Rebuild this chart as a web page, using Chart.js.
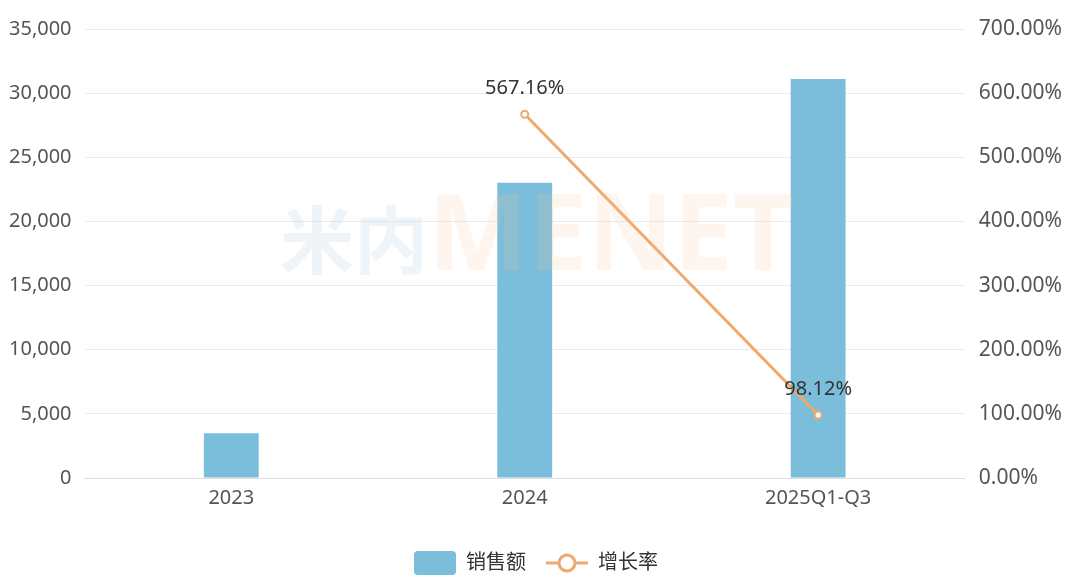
<!DOCTYPE html>
<html>
<head>
<meta charset="utf-8">
<script src="https://cdn.jsdelivr.net/npm/chart.js@4"></script>
<style>
  html, body { margin: 0; padding: 0; background: #fff; }
  #wrap { width: 1080px; height: 585px; }
</style>
</head>
<body>
<div id="wrap"><canvas id="chart"></canvas></div>
<script>
const categories = ['2023', '2024', '2025Q1-Q3'];
const sales = [3480, 23020, 31100];
const growth = [null, 567.16, 98.12];
const salesTicks = [0, 5000, 10000, 15000, 20000, 25000, 30000, 35000];
const growthTicks = [0, 100, 200, 300, 400, 500, 600, 700];

const barColor = '#7BBEDB';
const lineColor = '#EFA96B';
const FONT = "'Noto Sans', 'Noto Sans CJK SC', sans-serif";

// legend icons
function makeIcon(kind) {
  const c = document.createElement('canvas');
  c.width = 44; c.height = 26;
  const g = c.getContext('2d');
  if (kind === 'bar') {
    g.fillStyle = barColor;
    g.beginPath();
    g.roundRect(1, 1, 42, 24, 4);
    g.fill();
  } else {
    g.strokeStyle = lineColor;
    g.lineWidth = 3;
    g.beginPath(); g.moveTo(1, 13); g.lineTo(43, 13); g.stroke();
    g.fillStyle = '#fff';
    g.beginPath(); g.arc(22, 13, 8, 0, Math.PI * 2); g.fill(); g.stroke();
  }
  return c;
}
const icons = [makeIcon('bar'), makeIcon('line')];

const labelPlugin = {
  id: 'pointLabels',
  afterDatasetsDraw(chart) {
    const ctx = chart.ctx;
    const meta = chart.getDatasetMeta(1);
    ctx.save();
    ctx.font = '20px ' + FONT;
    ctx.fillStyle = '#333';
    ctx.textAlign = 'center';
    ctx.textBaseline = 'middle';
    meta.data.forEach((pt, i) => {
      const v = growth[i];
      if (v == null) return;
      ctx.fillText(v.toFixed(2) + '%', pt.x, pt.y - 26);
    });
    ctx.restore();
  }
};

const watermark = {
  id: 'watermark',
  afterDraw(chart) {
    const ctx = chart.ctx;
    ctx.save();
    ctx.textBaseline = 'middle';
    ctx.textAlign = 'left';
    ctx.font = "bold 74px 'Noto Sans CJK SC', sans-serif";
    ctx.fillStyle = 'rgba(170,200,215,0.2)';
    ctx.fillText('米内', 280, 240);
    ctx.font = "bold 106px 'Noto Sans', sans-serif";
    ctx.fillStyle = 'rgba(250,195,150,0.16)';
    ctx.fillText('MENET', 428, 240);
    ctx.restore();
  }
};

new Chart(document.getElementById('chart'), {
  data: {
    labels: categories,
    datasets: [
      {
        type: 'bar',
        label: '销售额',
        data: sales,
        backgroundColor: barColor,
        yAxisID: 'y',
        categoryPercentage: 1,
        barPercentage: 0.187,
        order: 2
      },
      {
        type: 'line',
        label: '增长率',
        data: growth,
        borderColor: lineColor,
        borderWidth: 3,
        pointRadius: 3.5,
        pointBorderWidth: 2,
        pointBackgroundColor: '#fff',
        pointBorderColor: lineColor,
        yAxisID: 'y1',
        order: 1
      }
    ]
  },
  options: {
    responsive: true,
    maintainAspectRatio: false,
    animation: false,
    layout: { padding: { left: -4, right: 4, top: 29, bottom: 2 } },
    plugins: {
      legend: {
        position: 'bottom',
        labels: {
          usePointStyle: true,
          pointStyleWidth: 42,
          boxHeight: 20,
          padding: 20,
          color: '#333',
          font: { size: 20, family: FONT },
          sort: (a, b) => a.datasetIndex - b.datasetIndex,
          generateLabels: chart => {
            const items = Chart.defaults.plugins.legend.labels.generateLabels(chart);
            items.forEach(it => { it.pointStyle = icons[it.datasetIndex]; });
            return items;
          }
        }
      },
      tooltip: { enabled: false }
    },
    scales: {
      x: {
        afterFit: ax => { ax.height += 15; },
        grid: { display: false, drawTicks: false },
        border: { color: '#ddd' },
        ticks: { color: '#555', padding: 8, font: { size: 20, family: FONT } }
      },
      y: {
        position: 'left',
        min: 0, max: 35000,
        afterBuildTicks: ax => { ax.ticks = salesTicks.map(v => ({ value: v })); },
        grid: { color: '#ebebeb', drawTicks: false },
        border: { display: false },
        ticks: {
          color: '#555', padding: 13,
          font: { size: 20, family: FONT },
          callback: v => v.toLocaleString('en-US')
        }
      },
      y1: {
        position: 'right',
        min: 0, max: 700,
        afterBuildTicks: ax => { ax.ticks = growthTicks.map(v => ({ value: v })); },
        grid: { display: false, drawTicks: false },
        border: { display: false },
        ticks: {
          color: '#555', padding: 14,
          font: { size: 21, family: FONT },
          callback: v => v.toFixed(2) + '%'
        }
      }
    }
  },
  plugins: [labelPlugin, watermark]
});
</script>
</body>
</html>
